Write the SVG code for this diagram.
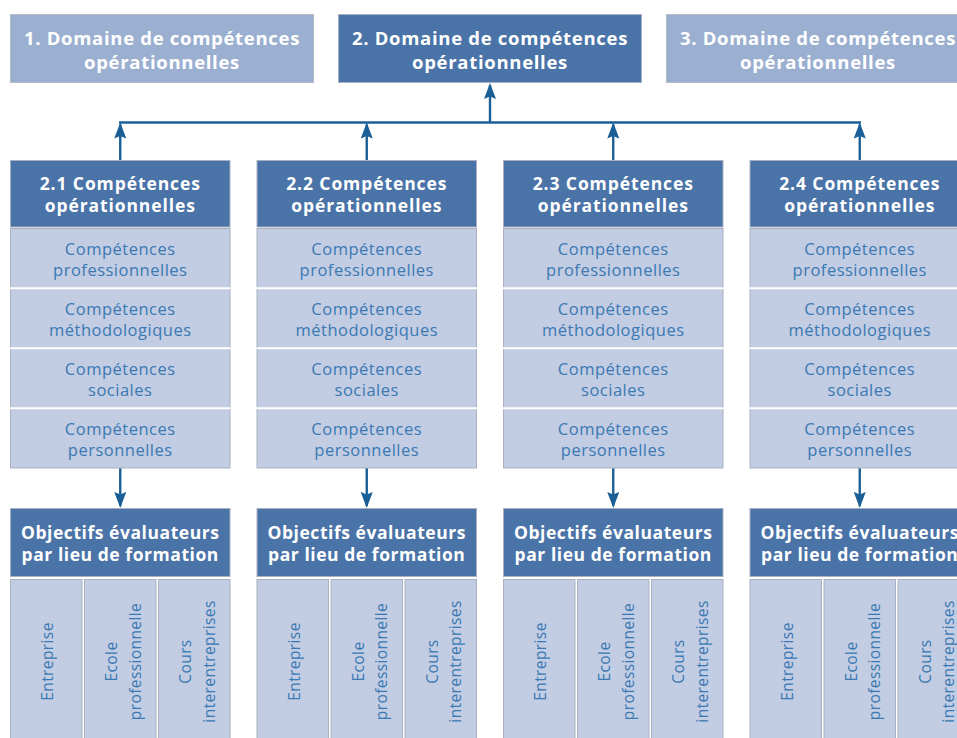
<svg xmlns="http://www.w3.org/2000/svg" width="957" height="738" viewBox="0 0 957 738">
<style>
.dark{fill:#4a73a8;stroke:#a9b1c1;stroke-width:1}
.pale{fill:#9bafd1;stroke:#b3bac8;stroke-width:1}
.row{fill:#c2cce2;stroke:#a9b1c1;stroke-width:1}
.sep{stroke:#ffffff;stroke-width:2}
text{font-family:"Open Sans","Noto Sans","Liberation Sans",sans-serif;text-anchor:middle}
.t1{font-size:18.5px;font-weight:bold;letter-spacing:0.7px;fill:#ffffff}
.h{font-size:17.5px;font-weight:bold;letter-spacing:0.9px;fill:#ffffff}
.o{font-size:17.5px;font-weight:bold;letter-spacing:0.55px;fill:#ffffff}
.r{font-size:16.5px;letter-spacing:0.5px;fill:#3a79b3}
.v{font-size:15.5px;letter-spacing:0.4px;fill:#3a79b3}
.con{fill:none;stroke:#1b5f97;stroke-width:2.4}
</style>
<defs>
<marker id="ah" viewBox="0 0 16 12" refX="14" refY="6" markerWidth="16" markerHeight="12" markerUnits="userSpaceOnUse" orient="auto">
<path d="M0,0 L16,6 L0,12 L2.5,6 z" fill="#1b5f97"/>
</marker>
</defs>
<rect width="957" height="738" fill="#ffffff"/>

<g id="domaine1">
<rect class="pale" x="10.5" y="14.5" width="303" height="68"/>
<text class="t1" x="162" y="45">1. Domaine de compétences</text>
<text class="t1" x="162" y="69">opérationnelles</text>
</g>
<g id="domaine2">
<rect class="dark" x="338.5" y="14.5" width="303" height="68"/>
<text class="t1" x="490" y="45">2. Domaine de compétences</text>
<text class="t1" x="490" y="69">opérationnelles</text>
</g>
<g id="domaine3">
<rect class="pale" x="666.5" y="14.5" width="303" height="68"/>
<text class="t1" x="818" y="45">3. Domaine de compétences</text>
<text class="t1" x="818" y="69">opérationnelles</text>
</g>

<g id="connectors">
<path class="con" d="M119,122.5 H861"/>
<path class="con" d="M490,122.5 V85" marker-end="url(#ah)"/>
<path class="con" d="M120.25,160 V124.5" marker-end="url(#ah)"/>
<path class="con" d="M366.75,160 V124.5" marker-end="url(#ah)"/>
<path class="con" d="M613.25,160 V124.5" marker-end="url(#ah)"/>
<path class="con" d="M859.75,160 V124.5" marker-end="url(#ah)"/>
<path class="con" d="M120.25,468 V506" marker-end="url(#ah)"/>
<path class="con" d="M366.75,468 V506" marker-end="url(#ah)"/>
<path class="con" d="M613.25,468 V506" marker-end="url(#ah)"/>
<path class="con" d="M859.75,468 V506" marker-end="url(#ah)"/>
</g>

<g id="col21">
<rect class="dark" x="10.5" y="160.5" width="219.5" height="66.5"/>
<text class="h" x="120.25" y="190">2.1 Compétences</text>
<text class="h" x="120.25" y="211.7">opérationnelles</text>
<rect class="row" x="10.5" y="228.5" width="219.5" height="239.5"/>
<line class="sep" x1="10" y1="288.3" x2="230.5" y2="288.3"/>
<line class="sep" x1="10" y1="348.3" x2="230.5" y2="348.3"/>
<line class="sep" x1="10" y1="408.3" x2="230.5" y2="408.3"/>
<text class="r" x="120.25" y="255">Compétences</text>
<text class="r" x="120.25" y="276">professionnelles</text>
<text class="r" x="120.25" y="315">Compétences</text>
<text class="r" x="120.25" y="336">méthodologiques</text>
<text class="r" x="120.25" y="375">Compétences</text>
<text class="r" x="120.25" y="396">sociales</text>
<text class="r" x="120.25" y="435">Compétences</text>
<text class="r" x="120.25" y="456">personnelles</text>
</g>
<g id="col22">
<rect class="dark" x="257" y="160.5" width="219.5" height="66.5"/>
<text class="h" x="366.75" y="190">2.2 Compétences</text>
<text class="h" x="366.75" y="211.7">opérationnelles</text>
<rect class="row" x="257" y="228.5" width="219.5" height="239.5"/>
<line class="sep" x1="256.5" y1="288.3" x2="477" y2="288.3"/>
<line class="sep" x1="256.5" y1="348.3" x2="477" y2="348.3"/>
<line class="sep" x1="256.5" y1="408.3" x2="477" y2="408.3"/>
<text class="r" x="366.75" y="255">Compétences</text>
<text class="r" x="366.75" y="276">professionnelles</text>
<text class="r" x="366.75" y="315">Compétences</text>
<text class="r" x="366.75" y="336">méthodologiques</text>
<text class="r" x="366.75" y="375">Compétences</text>
<text class="r" x="366.75" y="396">sociales</text>
<text class="r" x="366.75" y="435">Compétences</text>
<text class="r" x="366.75" y="456">personnelles</text>
</g>
<g id="col23">
<rect class="dark" x="503.5" y="160.5" width="219.5" height="66.5"/>
<text class="h" x="613.25" y="190">2.3 Compétences</text>
<text class="h" x="613.25" y="211.7">opérationnelles</text>
<rect class="row" x="503.5" y="228.5" width="219.5" height="239.5"/>
<line class="sep" x1="503" y1="288.3" x2="723.5" y2="288.3"/>
<line class="sep" x1="503" y1="348.3" x2="723.5" y2="348.3"/>
<line class="sep" x1="503" y1="408.3" x2="723.5" y2="408.3"/>
<text class="r" x="613.25" y="255">Compétences</text>
<text class="r" x="613.25" y="276">professionnelles</text>
<text class="r" x="613.25" y="315">Compétences</text>
<text class="r" x="613.25" y="336">méthodologiques</text>
<text class="r" x="613.25" y="375">Compétences</text>
<text class="r" x="613.25" y="396">sociales</text>
<text class="r" x="613.25" y="435">Compétences</text>
<text class="r" x="613.25" y="456">personnelles</text>
</g>
<g id="col24">
<rect class="dark" x="750" y="160.5" width="219.5" height="66.5"/>
<text class="h" x="859.75" y="190">2.4 Compétences</text>
<text class="h" x="859.75" y="211.7">opérationnelles</text>
<rect class="row" x="750" y="228.5" width="219.5" height="239.5"/>
<line class="sep" x1="749.5" y1="288.3" x2="970" y2="288.3"/>
<line class="sep" x1="749.5" y1="348.3" x2="970" y2="348.3"/>
<line class="sep" x1="749.5" y1="408.3" x2="970" y2="408.3"/>
<text class="r" x="859.75" y="255">Compétences</text>
<text class="r" x="859.75" y="276">professionnelles</text>
<text class="r" x="859.75" y="315">Compétences</text>
<text class="r" x="859.75" y="336">méthodologiques</text>
<text class="r" x="859.75" y="375">Compétences</text>
<text class="r" x="859.75" y="396">sociales</text>
<text class="r" x="859.75" y="435">Compétences</text>
<text class="r" x="859.75" y="456">personnelles</text>
</g>

<g id="obj21">
<rect class="dark" x="10.5" y="508.5" width="219.5" height="68"/>
<text class="o" x="120.25" y="539.3">Objectifs évaluateurs</text>
<text class="o" x="120.25" y="560.5">par lieu de formation</text>
<rect class="row" x="10.5" y="579.5" width="71.5" height="170"/>
<rect class="row" x="84.5" y="579.5" width="71.5" height="170"/>
<rect class="row" x="158.5" y="579.5" width="71.5" height="170"/>
<text class="v" transform="translate(53.25,661.5) rotate(-90)">Entreprise</text>
<text class="v" transform="translate(117,661.5) rotate(-90)"><tspan x="0" y="0">Ecole</tspan><tspan x="0" dy="23.5">professionnelle</tspan></text>
<text class="v" transform="translate(191,661.5) rotate(-90)"><tspan x="0" y="0">Cours</tspan><tspan x="0" dy="23.5">interentreprises</tspan></text>
</g>
<g id="obj22">
<rect class="dark" x="257" y="508.5" width="219.5" height="68"/>
<text class="o" x="366.75" y="539.3">Objectifs évaluateurs</text>
<text class="o" x="366.75" y="560.5">par lieu de formation</text>
<rect class="row" x="257" y="579.5" width="71.5" height="170"/>
<rect class="row" x="331" y="579.5" width="71.5" height="170"/>
<rect class="row" x="405" y="579.5" width="71.5" height="170"/>
<text class="v" transform="translate(299.75,661.5) rotate(-90)">Entreprise</text>
<text class="v" transform="translate(363.5,661.5) rotate(-90)"><tspan x="0" y="0">Ecole</tspan><tspan x="0" dy="23.5">professionnelle</tspan></text>
<text class="v" transform="translate(437.5,661.5) rotate(-90)"><tspan x="0" y="0">Cours</tspan><tspan x="0" dy="23.5">interentreprises</tspan></text>
</g>
<g id="obj23">
<rect class="dark" x="503.5" y="508.5" width="219.5" height="68"/>
<text class="o" x="613.25" y="539.3">Objectifs évaluateurs</text>
<text class="o" x="613.25" y="560.5">par lieu de formation</text>
<rect class="row" x="503.5" y="579.5" width="71.5" height="170"/>
<rect class="row" x="577.5" y="579.5" width="71.5" height="170"/>
<rect class="row" x="651.5" y="579.5" width="71.5" height="170"/>
<text class="v" transform="translate(546.25,661.5) rotate(-90)">Entreprise</text>
<text class="v" transform="translate(610,661.5) rotate(-90)"><tspan x="0" y="0">Ecole</tspan><tspan x="0" dy="23.5">professionnelle</tspan></text>
<text class="v" transform="translate(684,661.5) rotate(-90)"><tspan x="0" y="0">Cours</tspan><tspan x="0" dy="23.5">interentreprises</tspan></text>
</g>
<g id="obj24">
<rect class="dark" x="750" y="508.5" width="219.5" height="68"/>
<text class="o" x="859.75" y="539.3">Objectifs évaluateurs</text>
<text class="o" x="859.75" y="560.5">par lieu de formation</text>
<rect class="row" x="750" y="579.5" width="71.5" height="170"/>
<rect class="row" x="824" y="579.5" width="71.5" height="170"/>
<rect class="row" x="898" y="579.5" width="71.5" height="170"/>
<text class="v" transform="translate(792.75,661.5) rotate(-90)">Entreprise</text>
<text class="v" transform="translate(856.5,661.5) rotate(-90)"><tspan x="0" y="0">Ecole</tspan><tspan x="0" dy="23.5">professionnelle</tspan></text>
<text class="v" transform="translate(930.5,661.5) rotate(-90)"><tspan x="0" y="0">Cours</tspan><tspan x="0" dy="23.5">interentreprises</tspan></text>
</g>
</svg>
